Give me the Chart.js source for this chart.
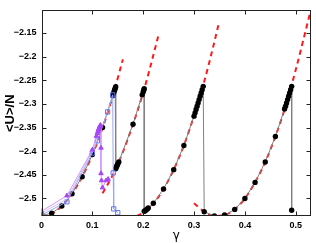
<!DOCTYPE html>
<html>
<head>
<meta charset="utf-8">
<script src="https://cdn.jsdelivr.net/npm/chart.js@4/dist/chart.umd.min.js"></script>
<style>
html,body{margin:0;padding:0;background:#fff;}
#wrap{width:316px;height:243px;position:relative;}
</style>
</head>
<body>
<div id="wrap"><canvas id="c" width="316" height="243"></canvas></div>
<script>
// ---- data ----
const blackGamma = [0,0.02,0.04,0.06,0.08,0.10,0.12,0.140,0.142,0.143,0.144,0.145,0.146,
  0.146,0.147,0.148,0.149,0.150,0.152,0.18,0.198,0.200,0.201,0.202,
  0.202,0.204,0.206,0.208,0.21,0.22,0.24,0.26,0.28,0.30,0.302,0.304,0.306,0.308,0.310,0.312,0.314,0.316,0.318,
  0.32,0.34,0.36,0.38,0.40,0.42,0.44,0.46,0.478,0.480,0.482,0.484,0.486,0.488,0.490,0.492,0.492];
const blackU = [-2.536,-2.531,-2.516,-2.490,-2.454,-2.407,-2.350,-2.283,-2.277,-2.273,-2.270,-2.267,-2.264,
  -2.437,-2.434,-2.432,-2.429,-2.427,-2.423,-2.343,-2.281,-2.275,-2.271,-2.268,
  -2.527,-2.526,-2.524,-2.522,-2.520,-2.510,-2.480,-2.439,-2.388,-2.326,-2.319,-2.312,-2.305,-2.298,-2.291,-2.284,-2.277,-2.270,-2.263,
  -2.528,-2.537,-2.535,-2.523,-2.500,-2.466,-2.423,-2.369,-2.311,-2.305,-2.298,-2.291,-2.284,-2.277,-2.270,-2.263,-2.525];

const fit1Gamma = [0,0.02,0.04,0.06,0.08,0.10,0.12,0.14,0.16];
const fit1U = [-2.537,-2.532,-2.516,-2.490,-2.454,-2.408,-2.351,-2.284,-2.206];
const fit2Gamma = [0.12,0.14,0.16,0.18,0.20,0.22,0.23];
const fit2U = [-2.489,-2.451,-2.402,-2.343,-2.276,-2.197,-2.155];
const fit3Gamma = [0.17,0.18,0.20,0.22,0.24,0.26,0.28,0.30,0.32,0.34,0.348];
const fit3U = [-2.540,-2.539,-2.530,-2.511,-2.480,-2.439,-2.388,-2.325,-2.253,-2.169,-2.133];
const fit4Gamma = [0.30,0.32,0.34,0.36,0.38,0.40,0.42,0.44,0.46,0.48,0.50,0.52,0.53];
const fit4U = [-2.510,-2.528,-2.537,-2.535,-2.523,-2.500,-2.466,-2.423,-2.369,-2.305,-2.228,-2.143,-2.100];

const blueGamma = [0,0.05,0.10,0.11,0.13,0.14,0.141,0.142,0.150];
const blueU = [-2.535,-2.507,-2.404,-2.378,-2.317,-2.281,-2.446,-2.522,-2.530];

const magGamma = [0,0.05,0.10,0.108,0.110,0.111,0.112,0.113,0.114,0.115,0.116,0.117,0.117,0.118,0.120,0.127,0.131];
const magU = [-2.527,-2.494,-2.397,-2.368,-2.362,-2.358,-2.355,-2.352,-2.349,-2.347,-2.345,-2.393,-2.447,-2.462,-2.477,-2.462,-2.459];

const lavGamma = [0,0.05,0.10,0.11];
const lavU = [-2.531,-2.501,-2.400,-2.372];

const xTicks = [0,0.1,0.2,0.3,0.4,0.5];
const yTicks = [-2.5,-2.45,-2.4,-2.35,-2.3,-2.25,-2.2,-2.15];

const pts = (xs, ys) => xs.map((x, i) => ({x: x, y: ys[i]}));

const redDash = (xs, ys) => ({
  data: pts(xs, ys), borderColor: '#ff1a1a', borderWidth: 2, borderDash: [5, 4],
  pointRadius: 0, showLine: true, fill: false, tension: 0.4, cubicInterpolationMode: 'monotone', order: 5
});

const boxPlugin = {
  id: 'box',
  afterDraw(chart) {
    const {ctx, chartArea: a, scales: {x, y}} = chart;
    ctx.save();
    ctx.strokeStyle = '#222';
    ctx.lineWidth = 1;
    const L = Math.round(a.left) + 0.5, R = Math.round(a.right) - 0.5;
    const T = Math.round(a.top) + 0.5, B = Math.round(a.bottom) - 0.5;
    ctx.strokeRect(L, T, R - L, B - T);
    ctx.beginPath();
    const tl = 4;
    x.ticks.forEach(t => {
      const px = Math.round(x.getPixelForValue(t.value)) + 0.5;
      ctx.moveTo(px, B); ctx.lineTo(px, B - tl);
      ctx.moveTo(px, T); ctx.lineTo(px, T + tl);
    });
    y.ticks.forEach(t => {
      const py = Math.round(y.getPixelForValue(t.value)) + 0.5;
      ctx.moveTo(L, py); ctx.lineTo(L + tl, py);
      ctx.moveTo(R, py); ctx.lineTo(R - tl, py);
    });
    ctx.stroke();
    ctx.restore();
  }
};

new Chart(document.getElementById('c'), {
  type: 'scatter',
  data: {
    datasets: [
      { data: pts(magGamma, magU), showLine: true, borderColor: '#cf98fa', borderWidth: 1,
        pointStyle: 'triangle', pointRadius: 2.6, pointBackgroundColor: '#a847f5', pointBorderColor: '#a847f5', pointBorderWidth: 1, order: 0 },
      { data: pts(lavGamma, lavU), showLine: true, borderColor: '#d3c0fb', borderWidth: 1, pointRadius: 0, order: 1 },
      { data: pts(blueGamma, blueU), showLine: true, borderColor: '#9aa6f7', borderWidth: 1,
        pointStyle: 'rect', pointRadius: 3, pointBackgroundColor: 'rgba(0,0,0,0)', pointBorderColor: '#6072f0', pointBorderWidth: 1, order: 2 },
      { data: pts(blackGamma, blackU), showLine: true, borderColor: '#808080', borderWidth: 1,
        pointRadius: 2.7, pointBackgroundColor: '#000', pointBorderColor: '#000', pointBorderWidth: 0, order: 3 },
      redDash(fit1Gamma, fit1U),
      redDash(fit2Gamma, fit2U),
      redDash(fit3Gamma, fit3U),
      redDash(fit4Gamma, fit4U)
    ]
  },
  options: {
    responsive: false,
    animation: false,
    devicePixelRatio: 1,
    layout: { padding: { top: 2, right: 3, left: 0, bottom: 0 } },
    plugins: { legend: { display: false }, tooltip: { enabled: false } },
    scales: {
      x: {
        type: 'linear', min: 0, max: 0.53,
        grid: { display: false, drawTicks: false },
        border: { display: false },
        afterFit: s => { s.height = 27; },
        afterBuildTicks: s => { s.ticks = xTicks.map(v => ({value: v})); },
        ticks: { padding: 4, color: '#000', font: { family: 'Liberation Sans', size: 9, weight: 'bold' },
          callback: v => String(Math.round(v * 10) / 10) },
        title: { display: true, text: 'γ', color: '#000', font: { family: 'DejaVu Sans', size: 12 }, padding: { top: 0, bottom: 0 } }
      },
      y: {
        type: 'linear', min: -2.537, max: -2.1025,
        grid: { display: false, drawTicks: false },
        border: { display: false },
        afterFit: s => { s.width = 41.5; },
        afterBuildTicks: s => { s.ticks = yTicks.map(v => ({value: v})); },
        ticks: { padding: 5, color: '#000', font: { family: 'Liberation Sans', size: 9, weight: 'bold' },
          callback: v => String(Math.round(v * 100) / 100).replace('-', '\u2212') },
        title: { display: true, text: '<U>/N', color: '#000', font: { family: 'Liberation Sans', size: 13, weight: 'bold' }, padding: { top: 3, bottom: 0 } }
      }
    }
  },
  plugins: [boxPlugin]
});
</script>
</body>
</html>
